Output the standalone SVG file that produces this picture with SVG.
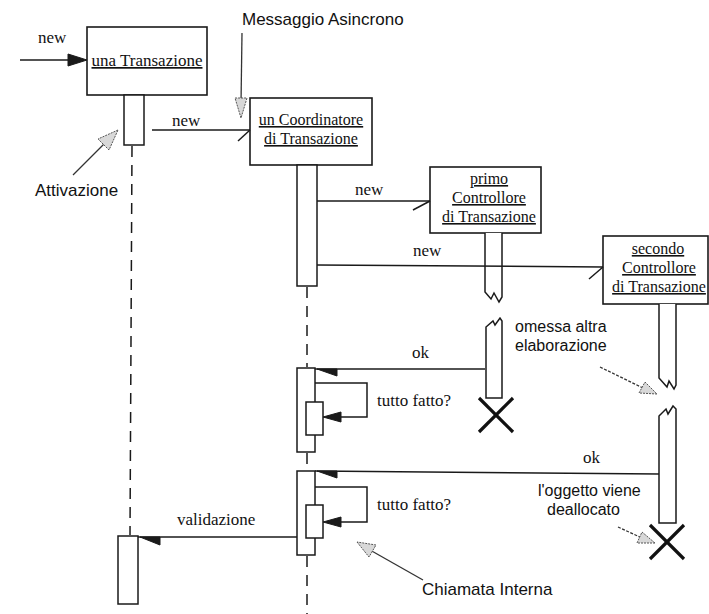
<svg xmlns="http://www.w3.org/2000/svg" width="709" height="614" viewBox="0 0 709 614">
<style>
.ln{stroke:#1a1a1a;stroke-width:1.5;fill:none}
.box{fill:#fff;stroke:#1a1a1a;stroke-width:1.6}
.bar{fill:#fff;stroke:#1a1a1a;stroke-width:1.5}
.life{stroke:#1a1a1a;stroke-width:1.5;stroke-dasharray:11 8;fill:none}
.serif{font-family:"Liberation Serif","Times New Roman",serif;font-size:17px;fill:#111}
.bt{font-size:16px}
.ul{text-decoration:underline}
.sans{font-family:"Liberation Sans",Arial,sans-serif;font-size:17px;fill:#111}
.s2{font-size:16px}
.fh{fill:#1a1a1a;stroke:#1a1a1a;stroke-width:1}
.note{stroke:#333;stroke-width:1.3;fill:none}
.dn{stroke:#333;stroke-width:1.3;fill:none;stroke-dasharray:3 1.5}
.hol{fill:#d8d8d8;stroke:#555;stroke-width:1;stroke-dasharray:2 1}
.x{stroke:#111;stroke-width:3.2}
</style>
<rect width="709" height="614" fill="#fff"/>

<g id="lifelines">
<line class="life" x1="132" y1="146" x2="130" y2="535"/>
<line class="life" x1="307" y1="287" x2="307" y2="367"/>
<line class="life" x1="307" y1="453" x2="307" y2="470"/>
<line class="life" x1="307" y1="556" x2="307" y2="614"/>
</g>

<g id="n-transazione">
<rect class="box" x="87" y="27" width="120" height="68"/>
<text class="serif ul" x="147" y="66" text-anchor="middle">una Transazione</text>
<rect class="bar" x="124" y="95" width="20" height="50"/>
<rect class="bar" x="118" y="536" width="20" height="68"/>
</g>

<g id="n-coordinatore">
<rect class="box" x="250" y="98" width="122" height="67"/>
<text class="serif bt ul" x="311" y="125" text-anchor="middle">un Coordinatore</text>
<text class="serif bt ul" x="311" y="144" text-anchor="middle">di Transazione</text>
<rect class="bar" x="297" y="165" width="20" height="121"/>
<rect class="bar" x="297" y="368" width="18" height="84"/>
<rect class="bar" x="306" y="402" width="17" height="33"/>
<rect class="bar" x="297" y="471" width="18" height="84"/>
<rect class="bar" x="306" y="505" width="17" height="33"/>
</g>

<g id="n-primo">
<rect class="box" x="430" y="167" width="111" height="66"/>
<text class="serif bt ul" x="489" y="184" text-anchor="middle">primo</text>
<text class="serif bt ul" x="489" y="203" text-anchor="middle">Controllore</text>
<text class="serif bt ul" x="489" y="222" text-anchor="middle">di Transazione</text>
<path class="bar" d="M485,233 V292 L491,299 L494,293 L499,302 L502,297 V233"/>
<path class="bar" d="M486,398 V327 L493,321 L495,325 L500,318 L502,321 V398 Z"/>
<line class="x" x1="479" y1="398" x2="513" y2="432"/>
<line class="x" x1="513" y1="398" x2="479" y2="432"/>
</g>

<g id="n-secondo">
<rect class="box" x="603" y="236" width="105" height="68"/>
<text class="serif bt ul" x="658" y="254" text-anchor="middle">secondo</text>
<text class="serif bt ul" x="659" y="273" text-anchor="middle">Controllore</text>
<text class="serif bt ul" x="659" y="292" text-anchor="middle">di Transazione</text>
<path class="bar" d="M659,304 V378 L667,387 L669,381 L674,389 L676,385 V304"/>
<path class="bar" d="M659,523 V416 L666,409 L668,414 L673,406 L676,409 V523 Z"/>
<line class="x" x1="650" y1="525" x2="684" y2="559"/>
<line class="x" x1="684" y1="525" x2="650" y2="559"/>
</g>

<g id="connectors">
<line class="ln" x1="20" y1="60" x2="70" y2="60"/>
<polygon class="fh" points="87,60 68,54 68,66"/>
<text class="serif" x="38" y="43">new</text>
<line class="ln" x1="152" y1="130" x2="250" y2="130"/>
<line class="ln" x1="238" y1="141" x2="250" y2="130"/>
<text class="serif" x="172" y="126">new</text>
<line class="ln" x1="317" y1="201" x2="430" y2="201"/>
<line class="ln" x1="413" y1="210" x2="430" y2="201"/>
<text class="serif" x="355" y="195">new</text>
<line class="ln" x1="317" y1="265" x2="603" y2="267"/>
<line class="ln" x1="589" y1="279" x2="603" y2="267"/>
<text class="serif" x="413" y="256">new</text>
<line class="ln" x1="315" y1="369" x2="485" y2="369"/>
<polygon class="fh" points="317,369 337,369 337,376"/>
<text class="serif" x="412" y="358">ok</text>
<polyline class="ln" points="315,383 367,383 367,417 340,417"/>
<polygon class="fh" points="323,417 341,412 341,422"/>
<text class="serif" x="377" y="406">tutto fatto?</text>
<line class="ln" x1="315" y1="471" x2="659" y2="474"/>
<polygon class="fh" points="317,471 337,471 337,478"/>
<text class="serif" x="583" y="463">ok</text>
<polyline class="ln" points="315,487 367,487 367,522 340,522"/>
<polygon class="fh" points="323,522 341,517 341,527"/>
<text class="serif" x="377" y="510">tutto fatto?</text>
<line class="ln" x1="138" y1="537" x2="297" y2="537"/>
<polygon class="fh" points="140,537 160,537 160,545"/>
<text class="serif" x="177" y="525">validazione</text>
</g>

<g id="annotations">
<text class="sans" x="242" y="25">Messaggio Asincrono</text>
<line class="note" x1="242" y1="33" x2="241" y2="104"/>
<polygon class="hol" points="241,118 235,98 247,98"/>

<text class="sans" x="35" y="196">Attivazione</text>
<line class="note" x1="73" y1="175" x2="107" y2="141"/>
<polygon class="hol" points="118,130 98,139 109,150"/>

<text class="sans s2" x="515" y="332">omessa altra</text>
<text class="sans s2" x="515" y="351">elaborazione</text>
<line class="dn" x1="600" y1="367" x2="643" y2="388"/>
<polygon class="hol" points="657,394 639,393 645,382"/>

<text class="sans s2" x="538" y="496">l'oggetto viene</text>
<text class="sans s2" x="547" y="515">deallocato</text>
<line class="dn" x1="618" y1="527" x2="642" y2="538"/>
<polygon class="hol" points="655,543 637,543 642,532"/>

<line class="note" x1="423" y1="580" x2="370" y2="550"/>
<polygon class="hol" points="357,542 369,557 376,545"/>
<text class="sans" x="422" y="595">Chiamata Interna</text>
</g>
</svg>
